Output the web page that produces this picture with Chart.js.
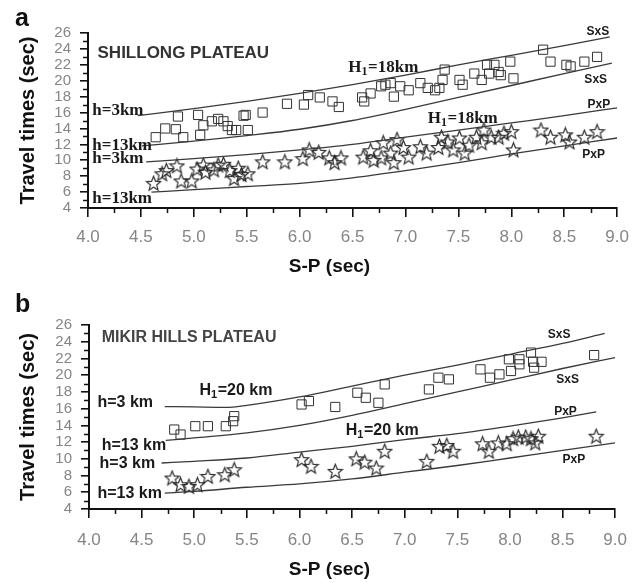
<!DOCTYPE html>
<html>
<head>
<meta charset="utf-8">
<script src="https://cdn.jsdelivr.net/npm/chart.js@4.4.1/dist/chart.umd.min.js"></script>
<style>
  html, body { margin: 0; padding: 0; background: #fff; }
  #wrap { position: relative; width: 639px; height: 583px; }
  .panel { position: absolute; left: 0; width: 639px; }
  #panelA { top: 0; height: 290px; }
  #panelB { top: 290px; height: 293px; }
</style>
</head>
<body>
<div id="wrap">
  <div class="panel" id="panelA"><canvas id="chartA"></canvas></div>
  <div class="panel" id="panelB"><canvas id="chartB"></canvas></div>
</div>
<script>
// ---- Shillong Plateau (panel a) ----
// observed SxS (squares) and PxP (stars): S-P time vs travel time, sec
const shillongSxSX = [4.64, 4.73, 4.83, 4.90, 4.85, 5.04, 5.06, 5.09, 5.17, 5.23, 5.28, 5.32, 5.36, 5.40, 5.47, 5.49, 5.51, 5.65, 5.88, 6.04, 6.08, 6.19, 6.31, 6.37, 6.59, 6.61, 6.67, 6.77, 6.81, 6.86, 6.89, 6.95, 7.03, 7.14, 7.21, 7.28, 7.32, 7.37, 7.35, 7.51, 7.54, 7.65, 7.72, 7.77, 7.79, 7.84, 7.88, 7.90, 7.99, 8.02, 8.30, 8.37, 8.52, 8.56, 8.69, 8.81];
const shillongSxSY = [12.9, 14.0, 13.9, 12.9, 15.5, 15.7, 13.2, 14.4, 14.9, 15.2, 14.9, 14.3, 13.8, 13.8, 15.6, 15.7, 13.8, 16.0, 17.1, 17.0, 18.2, 17.9, 17.4, 16.7, 17.9, 17.4, 18.4, 19.3, 19.5, 19.7, 18.0, 19.3, 18.8, 19.7, 19.1, 18.8, 19.1, 21.4, 20.1, 20.1, 19.5, 20.9, 20.1, 22.0, 20.9, 22.0, 21.1, 20.7, 22.4, 20.3, 23.9, 22.4, 22.0, 21.8, 22.4, 23.0];
const shillongPxPX = [4.62, 4.70, 4.74, 4.84, 4.88, 4.98, 5.03, 5.09, 5.11, 5.19, 5.23, 5.28, 5.34, 5.38, 5.42, 5.45, 5.51, 5.65, 5.86, 6.03, 6.09, 6.18, 6.28, 6.33, 6.39, 6.60, 6.67, 6.70, 6.77, 6.79, 6.86, 6.89, 6.92, 6.98, 7.03, 7.14, 7.20, 7.31, 7.34, 7.40, 7.45, 7.51, 7.56, 7.60, 7.67, 7.72, 7.74, 7.81, 7.88, 7.93, 8.00, 8.02, 8.28, 8.37, 8.51, 8.55, 8.69, 8.81];
const shillongPxPY = [7.1, 8.3, 8.7, 9.3, 7.4, 7.4, 8.9, 9.4, 8.5, 8.8, 9.4, 9.5, 8.7, 7.7, 9.0, 8.2, 8.3, 9.8, 9.8, 10.2, 11.3, 11.0, 10.3, 9.7, 10.3, 10.4, 11.2, 10.0, 10.3, 12.2, 10.9, 9.7, 12.6, 11.6, 10.4, 11.7, 10.9, 11.6, 12.9, 12.3, 11.3, 12.8, 10.9, 11.9, 12.9, 12.2, 13.8, 12.9, 12.9, 13.4, 13.6, 11.3, 13.8, 12.9, 13.2, 12.3, 12.9, 13.6];

// model curves, H1 = 18 km
const shillongSxS3X = [4.47, 5.0, 5.5, 6.0, 6.5, 7.0, 7.5, 8.0, 8.5, 8.93];
const shillongSxS3Y = [15.6, 16.5, 17.4, 18.4, 19.5, 20.7, 22.0, 23.2, 24.4, 25.5];
const shillongSxS13X = [4.51, 5.0, 5.5, 6.0, 6.5, 7.0, 7.5, 8.0, 8.5, 8.95];
const shillongSxS13Y = [11.8, 12.4, 13.1, 13.9, 15.0, 16.4, 17.9, 19.4, 20.9, 22.2];
const shillongPxP3X = [4.55, 5.0, 5.5, 6.0, 6.5, 7.0, 7.5, 8.0, 8.5, 9.0];
const shillongPxP3Y = [9.8, 10.2, 10.7, 11.3, 12.0, 12.9, 13.8, 14.7, 15.6, 16.6];
const shillongPxP13X = [4.6, 5.0, 5.5, 6.0, 6.5, 7.0, 7.5, 8.0, 8.5, 9.0];
const shillongPxP13Y = [6.0, 6.3, 6.7, 7.1, 7.8, 8.7, 9.7, 10.8, 11.8, 12.8];

// ---- Mikir Hills Plateau (panel b) ----
const mikirSxSX = [4.81, 4.87, 5.01, 5.13, 5.30, 5.37, 5.38, 6.02, 6.09, 6.34, 6.55, 6.63, 6.75, 6.81, 7.23, 7.32, 7.42, 7.72, 7.81, 7.90, 8.01, 7.99, 8.09, 8.09, 8.20, 8.22, 8.23, 8.30, 8.80];
const mikirSxSY = [13.5, 12.9, 13.9, 13.9, 13.9, 14.5, 15.1, 16.5, 16.9, 16.2, 17.9, 17.3, 16.7, 18.9, 18.3, 19.7, 19.5, 20.7, 19.7, 20.1, 20.5, 21.9, 21.9, 21.3, 22.7, 21.6, 20.9, 21.6, 22.4];
const mikirPxPX = [4.79, 4.87, 4.95, 5.03, 5.13, 5.29, 5.38, 6.02, 6.11, 6.34, 6.54, 6.62, 6.73, 6.81, 7.21, 7.33, 7.40, 7.46, 7.74, 7.80, 7.89, 7.97, 8.03, 8.08, 8.15, 8.20, 8.24, 8.27, 8.82];
const mikirPxPY = [7.7, 6.9, 6.7, 6.9, 7.9, 8.1, 8.7, 9.9, 9.1, 8.5, 10.0, 9.6, 8.9, 10.9, 9.7, 11.5, 11.6, 10.9, 11.8, 10.9, 11.9, 11.8, 12.4, 12.6, 12.6, 12.4, 11.9, 12.7, 12.7];

// model curves, H1 = 20 km
const mikirSxS3X = [4.72, 5.0, 5.3, 5.5, 6.0, 6.5, 7.0, 7.5, 8.0, 8.5, 8.9];
const mikirSxS3Y = [16.25, 16.2, 16.15, 16.4, 17.4, 18.7, 20.0, 21.2, 22.5, 23.8, 25.0];
const mikirSxS13X = [4.73, 5.0, 5.5, 6.0, 6.5, 7.0, 7.5, 8.0, 8.5, 9.0];
const mikirSxS13Y = [12.2, 12.5, 13.1, 14.0, 15.2, 16.6, 18.0, 19.4, 20.8, 22.1];
const mikirPxP3X = [4.69, 5.0, 5.5, 6.0, 6.5, 7.0, 7.5, 8.0, 8.5, 8.82];
const mikirPxP3Y = [9.5, 9.7, 10.1, 10.8, 11.5, 12.3, 13.0, 13.9, 14.9, 15.6];
const mikirPxP13X = [4.72, 5.0, 5.5, 6.0, 6.5, 7.0, 7.5, 8.0, 8.5, 9.0];
const mikirPxP13Y = [5.9, 6.1, 6.6, 7.0, 7.6, 8.4, 9.2, 10.1, 11.0, 11.9];

const xTickStep = 0.5;
const yTickStep = 2;

const SANS = '"Liberation Sans", Arial, sans-serif';
const SERIF = '"Liberation Serif", "Times New Roman", serif';

// hollow five-point star used as point style
const starImg = (() => {
    const c = document.createElement('canvas');
    c.width = 17; c.height = 17;
    const g = c.getContext('2d');
    g.strokeStyle = '#262626';
    g.lineWidth = 1.15;
    g.beginPath();
    for (let i = 0; i < 10; i++) {
        const r = i % 2 ? 3.3 : 7.6;
        const a = -Math.PI / 2 + i * Math.PI / 5;
        const px = 8.5 + r * Math.cos(a), py = 9 + r * Math.sin(a);
        if (i) g.lineTo(px, py); else g.moveTo(px, py);
    }
    g.closePath();
    g.stroke();
    return c;
})();

const pts = (xs, ys) => xs.map((v, i) => ({ x: v, y: ys[i] }));

function curve(xs, ys) {
    return {
        data: pts(xs, ys),
        showLine: true,
        pointRadius: 0,
        borderColor: '#3a3a3a',
        borderWidth: 1.3,
        cubicInterpolationMode: 'monotone',
        fill: false,
    };
}

function squares(xs, ys) {
    return {
        data: pts(xs, ys),
        showLine: false,
        pointStyle: 'rect',
        pointRadius: 6.5,
        borderColor: '#333',
        borderWidth: 1,
        backgroundColor: 'rgba(0,0,0,0)',
    };
}

function stars(xs, ys) {
    return {
        data: pts(xs, ys),
        showLine: false,
        pointStyle: starImg,
        pointRadius: 7,
    };
}

// small ticks between the labelled ones
const minorTicks = {
    id: 'minorTicks',
    afterDraw(chart, args, opts) {
        const { ctx, scales: { x, y } } = chart;
        ctx.save();
        ctx.strokeStyle = '#111';
        ctx.lineWidth = 1.5;
        ctx.beginPath();
        for (let v = x.min + xTickStep / 2; v < x.max; v += xTickStep) {
            const px = Math.round(x.getPixelForValue(v)) + 0.5;
            ctx.moveTo(px, x.top);
            ctx.lineTo(px, x.top + opts.len);
        }
        for (let v = y.min + yTickStep / 2; v < y.max; v += yTickStep) {
            const py = Math.round(y.getPixelForValue(v)) + 0.5;
            ctx.moveTo(y.right, py);
            ctx.lineTo(y.right - opts.len, py);
        }
        ctx.stroke();
        ctx.restore();
    }
};

// curve labels, region names, x title and panel letters
const textMarks = {
    id: 'textMarks',
    afterDatasetsDraw(chart, args, opts) {
        const { ctx, scales: { x, y } } = chart;
        ctx.save();
        ctx.textBaseline = 'alphabetic';
        ctx.textAlign = 'left';
        opts.items.forEach(item => {
            let px = x.getPixelForValue(item.x);
            const py = y.getPixelForValue(item.y);
            ctx.fillStyle = item.color || '#1a1a1a';
            item.parts.forEach(part => {
                if (typeof part === 'string') {
                    ctx.font = item.font;
                    ctx.fillText(part, px, py);
                    px += ctx.measureText(part).width;
                } else {
                    ctx.font = item.subFont;
                    ctx.fillText(part.sub, px, py + 3);
                    px += ctx.measureText(part.sub).width + 0.5;
                }
            });
        });

        // S-P axis title sits a little left of the plot centre
        ctx.font = 'bold 19px ' + SANS;
        ctx.fillStyle = '#111';
        ctx.textAlign = 'center';
        ctx.fillText(opts.xTitle, chart.width / 2 + 10, x.bottom - opts.xTitleLift);

        ctx.textAlign = 'left';
        ctx.font = 'bold 25px ' + SANS;
        ctx.fillText(opts.letter, opts.letterX, opts.letterY);
        ctx.restore();
    }
};

function makeChart(el, cfg) {
    return new Chart(document.getElementById(el), {
        type: 'scatter',
        data: { datasets: cfg.datasets },
        options: {
            responsive: true,
            maintainAspectRatio: false,
            animation: false,
            layout: { padding: cfg.padding },
            plugins: {
                legend: { display: false },
                tooltip: { enabled: false },
                minorTicks: { len: 5 },
                textMarks: {
                    items: cfg.labels,
                    xTitle: 'S-P (sec)',
                    xTitleLift: 6,
                    letter: cfg.letter,
                    letterX: 15,
                    letterY: cfg.letterY,
                },
            },
            scales: {
                x: {
                    type: 'linear',
                    min: 4,
                    max: 9,
                    border: { color: '#111', width: 2 },
                    grid: { drawOnChartArea: false, tickLength: 9, color: '#111', lineWidth: 1.6 },
                    ticks: {
                        stepSize: xTickStep,
                        autoSkip: false,
                        maxRotation: 0,
                        padding: cfg.xTickPad,
                        color: '#858585',
                        font: { family: SANS, size: 17 },
                        callback: v => v.toFixed(1),
                    },
                    afterFit: s => { s.height = cfg.xHeight; },
                },
                y: {
                    type: 'linear',
                    min: 4,
                    max: 26,
                    border: { color: '#111', width: 2 },
                    grid: { drawOnChartArea: false, tickLength: 8, color: '#111', lineWidth: 1.6 },
                    ticks: {
                        stepSize: yTickStep,
                        autoSkip: false,
                        padding: 9,
                        color: '#858585',
                        font: { family: SANS, size: 15 },
                    },
                    title: {
                        display: true,
                        text: 'Travel times (sec)',
                        color: '#111',
                        font: { family: SANS, size: 20, weight: 'bold' },
                        padding: { top: 16, bottom: 0 },
                    },
                    afterFit: s => { s.width = cfg.yWidth; },
                },
            },
        },
        plugins: [minorTicks, textMarks],
    });
}

const serifFont = 'bold 17px ' + SERIF;
const serifSub = 'bold 12px ' + SERIF;
const sansFont = 'bold 16px ' + SANS;
const sansSub = 'bold 11px ' + SANS;
const phaseFont = 'bold 12px ' + SANS;

makeChart('chartA', {
    padding: { top: 33, right: 14, bottom: 12, left: 0 },
    xHeight: 70,
    yWidth: 88,
    xTickPad: 10,
    letter: 'a',
    letterY: 26,
    datasets: [
        curve(shillongSxS3X, shillongSxS3Y),
        curve(shillongSxS13X, shillongSxS13Y),
        curve(shillongPxP3X, shillongPxP3Y),
        curve(shillongPxP13X, shillongPxP13Y),
        squares(shillongSxSX, shillongSxSY),
        stars(shillongPxPX, shillongPxPY),
    ],
    labels: [
        { parts: ['SHILLONG PLATEAU'], x: 4.09, y: 22.85, font: 'bold 17px ' + SANS, color: '#333' },
        { parts: ['h=3km'], x: 4.04, y: 15.7, font: serifFont },
        { parts: ['h=13km'], x: 4.04, y: 11.3, font: serifFont },
        { parts: ['h=3km'], x: 4.04, y: 9.65, font: serifFont },
        { parts: ['h=13km'], x: 4.04, y: 4.63, font: serifFont },
        { parts: ['H', { sub: '1' }, '=18km'], x: 6.46, y: 21.1, font: serifFont, subFont: serifSub },
        { parts: ['H', { sub: '1' }, '=18km'], x: 7.21, y: 14.7, font: serifFont, subFont: serifSub },
        { parts: ['SxS'], x: 8.71, y: 25.8, font: phaseFont },
        { parts: ['SxS'], x: 8.69, y: 19.7, font: phaseFont },
        { parts: ['PxP'], x: 8.72, y: 16.6, font: phaseFont },
        { parts: ['PxP'], x: 8.67, y: 10.3, font: phaseFont },
    ],
});

makeChart('chartB', {
    padding: { top: 35, right: 12, bottom: 2, left: 0 },
    xHeight: 72,
    yWidth: 89,
    xTickPad: 12,
    letter: 'b',
    letterY: 22,
    datasets: [
        curve(mikirSxS3X, mikirSxS3Y),
        curve(mikirSxS13X, mikirSxS13Y),
        curve(mikirPxP3X, mikirPxP3Y),
        curve(mikirPxP13X, mikirPxP13Y),
        squares(mikirSxSX, mikirSxSY),
        stars(mikirPxPX, mikirPxPY),
    ],
    labels: [
        { parts: ['MIKIR HILLS PLATEAU'], x: 4.12, y: 24.0, font: 'bold 16px ' + SANS, color: '#444' },
        { parts: ['h=3 km'], x: 4.08, y: 16.2, font: sansFont },
        { parts: ['H', { sub: '1' }, '=20 km'], x: 5.05, y: 17.65, font: sansFont, subFont: sansSub },
        { parts: ['h=13 km'], x: 4.12, y: 11.07, font: sansFont },
        { parts: ['h=3 km'], x: 4.10, y: 8.9, font: sansFont },
        { parts: ['h=13 km'], x: 4.08, y: 5.3, font: sansFont },
        { parts: ['H', { sub: '1' }, '=20 km'], x: 6.44, y: 12.86, font: sansFont, subFont: sansSub },
        { parts: ['SxS'], x: 8.36, y: 24.5, font: phaseFont },
        { parts: ['SxS'], x: 8.44, y: 19.1, font: phaseFont },
        { parts: ['PxP'], x: 8.42, y: 15.26, font: phaseFont },
        { parts: ['PxP'], x: 8.50, y: 9.5, font: phaseFont },
    ],
});
</script>
</body>
</html>
